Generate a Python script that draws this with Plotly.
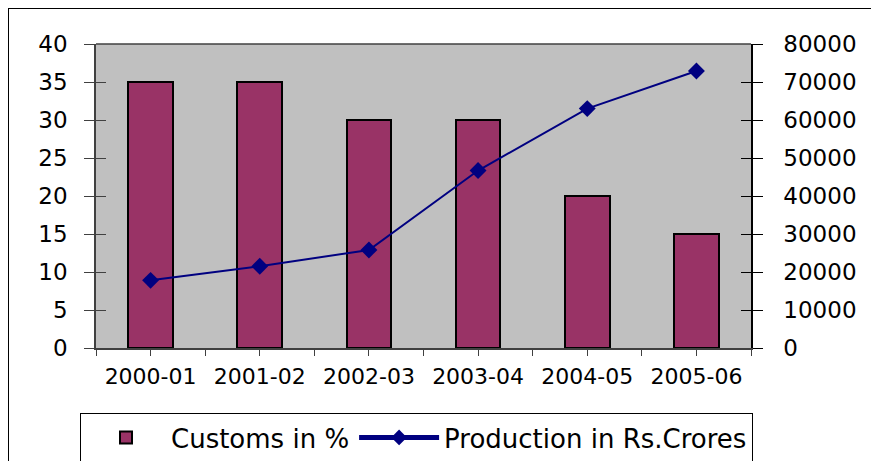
import plotly.graph_objects as go

categories = ["2000-01", "2001-02", "2002-03", "2003-04", "2004-05", "2005-06"]
customs_pct = [35, 35, 30, 30, 20, 15]
production_crores = [17800, 21500, 25800, 46700, 63000, 72900]

xpos = list(range(len(categories)))
FONT = "DejaVu Sans, Verdana, sans-serif"
TICKFONT = dict(family=FONT, size=23, color="black")

W, H = 879, 461
ML, MR, MT, MB = 88, 136, 36, 121
PW, PH = W - ML - MR, H - MT - MB


def px_x(v):
    return (v - ML) / PW


def px_y(v):
    return (H - MB - v) / PH


fig = go.Figure()
fig.add_trace(go.Bar(
    x=xpos, y=customs_pct, name="Customs in %", width=0.41,
    marker=dict(color="#993366", line=dict(color="black", width=2)),
))
fig.add_trace(go.Scatter(
    x=xpos, y=production_crores, name="Production in Rs.Crores", yaxis="y2",
    mode="lines+markers",
    line=dict(color="#000080", width=2),
    marker=dict(symbol="diamond", size=13, color="#000080"),
))
# invisible helpers for crossing ticks on both value axes
fig.add_trace(go.Scatter(x=[None], y=[None], yaxis="y3", showlegend=False, hoverinfo="skip"))
fig.add_trace(go.Scatter(x=[None], y=[None], yaxis="y4", showlegend=False, hoverinfo="skip"))

fig.update_layout(
    width=W, height=H,
    margin=dict(l=ML, r=MR, t=MT, b=MB, autoexpand=False),
    paper_bgcolor="white", plot_bgcolor="#C0C0C0",
    font=dict(family=FONT, size=23, color="black"),
    showlegend=True,
    bargap=0,
    xaxis=dict(
        range=[-0.5, 5.5], tickvals=xpos, ticktext=categories,
        ticks="outside", ticklen=6, tickcolor="#404040", tickwidth=1,
        minor=dict(tick0=0.5, dtick=1, ticks="outside", ticklen=6, tickcolor="#404040", tickwidth=1),
        showline=True, linecolor="#404040", linewidth=1.5, mirror=False,
        showgrid=False, zeroline=False, automargin=False,
        tickfont=dict(family=FONT, size=22, color="black"), ticklabelstandoff=2,
    ),
    yaxis=dict(
        range=[0, 40], tickvals=list(range(0, 41, 5)),
        ticks="outside", ticklen=10, tickcolor="#404040",
        showline=True, linecolor="#404040", linewidth=1.5,
        showgrid=False, zeroline=False, ticklabelstandoff=12, automargin=False,
        tickfont=TICKFONT,
    ),
    yaxis3=dict(
        range=[0, 40], tickvals=list(range(0, 41, 5)), overlaying="y",
        ticks="inside", ticklen=10, tickcolor="#404040", automargin=False,
        showticklabels=False, showgrid=False, zeroline=False, showline=False,
    ),
    yaxis2=dict(
        range=[0, 80000], tickvals=list(range(0, 80001, 10000)), tickformat="d",
        overlaying="y", side="right",
        ticks="outside", ticklen=10, tickcolor="black",
        showline=True, linecolor="black", linewidth=1.5,
        showgrid=False, zeroline=False, ticklabelstandoff=16, automargin=False,
        tickfont=TICKFONT,
    ),
    yaxis4=dict(
        range=[0, 80000], tickvals=list(range(0, 80001, 10000)),
        overlaying="y", side="right", anchor="x",
        ticks="inside", ticklen=10, tickcolor="black", automargin=False,
        showticklabels=False, showgrid=False, zeroline=False, showline=False,
    ),
    legend=dict(
        orientation="h", x=px_x(72), xanchor="left", y=px_y(405), yanchor="top",
        bordercolor="black", borderwidth=1, bgcolor="white",
        font=dict(family=FONT, size=26, color="black"), itemsizing="constant",
        itemwidth=80,
    ),
    shapes=[
        dict(type="line", xref="paper", yref="paper", x0=0, x1=1, y0=1, y1=1,
             line=dict(color="#404040", width=1.5)),
        dict(type="rect", xref="paper", yref="paper",
             x0=px_x(0), x1=px_x(870),
             y0=px_y(475), y1=px_y(0),
             line=dict(color="black", width=2)),
    ],
)

fig.write_html("out.html")
